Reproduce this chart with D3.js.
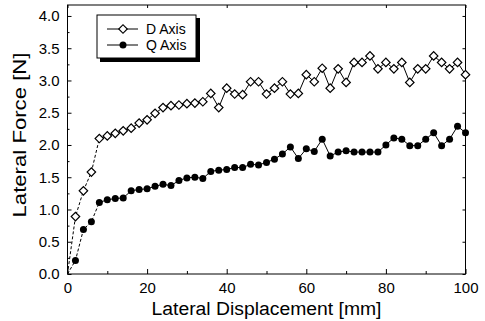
<!DOCTYPE html>
<html><head><meta charset="utf-8">
<script src="https://cdn.jsdelivr.net/npm/d3@7"></script>
<style>body{margin:0;background:#fff}svg{display:block}text{font-family:"Liberation Sans",Arial,sans-serif;fill:#000}</style>
</head><body>
<svg id="c" width="485" height="321"></svg>
<script>
const xValues = [0,2,4,6,8,10,12,14,16,18,20,22,24,26,28,30,32,34,36,38,40,42,44,46,48,50,52,54,56,58,60,62,64,66,68,70,72,74,76,78,80,82,84,86,88,90,92,94,96,98,100];
const dAxis = [0,0.89,1.29,1.58,2.10,2.14,2.18,2.22,2.26,2.34,2.39,2.49,2.58,2.61,2.62,2.64,2.65,2.67,2.80,2.58,2.88,2.79,2.78,2.98,2.98,2.79,2.88,2.98,2.79,2.80,3.09,2.98,3.19,2.88,3.18,2.97,3.28,3.28,3.38,3.18,3.28,3.18,3.28,2.97,3.18,3.18,3.38,3.28,3.18,3.28,3.09];
const qAxis = [0,0.21,0.69,0.81,1.11,1.15,1.17,1.18,1.29,1.31,1.32,1.36,1.39,1.37,1.45,1.49,1.50,1.48,1.59,1.61,1.62,1.65,1.65,1.70,1.69,1.73,1.78,1.86,1.97,1.79,1.94,1.90,2.09,1.83,1.89,1.91,1.89,1.89,1.89,1.89,2.00,2.11,2.09,1.99,1.99,2.09,2.19,1.99,2.09,2.29,2.19];
const seriesNames = ["D Axis","Q Axis"];
const xTicks = [0,20,40,60,80,100];
const xMinor = [10,30,50,70,90];
const yTicks = [0,0.5,1.0,1.5,2.0,2.5,3.0,3.5,4.0];
const yMinor = [0.25,0.75,1.25,1.75,2.25,2.75,3.25,3.75];
const xTitle = "Lateral Displacement [mm]";
const yTitle = "Lateral Force [N]";

const svg = d3.select("#c");
const L = 67.5, R = 465.5, T = 5, B = 274;
const x = d3.scaleLinear().domain([0,100]).range([L,R]);
const y = d3.scaleLinear().domain([0,4.17]).range([B,T]);

// frame
svg.append("rect").attr("x",L).attr("y",T).attr("width",R-L).attr("height",B-T)
  .attr("fill","none").attr("stroke","#000").attr("stroke-width",1);

// axes
const gx = svg.append("g").attr("transform",`translate(0,${B})`)
  .call(d3.axisBottom(x).tickValues(xTicks).tickFormat(d3.format("d")).tickSize(-5).tickPadding(8));
const gy = svg.append("g").attr("transform",`translate(${L},0)`)
  .call(d3.axisLeft(y).tickValues(yTicks).tickFormat(d3.format(".1f")).tickSize(-4).tickPadding(8));
[gx,gy].forEach(g=>{g.select(".domain").remove();g.selectAll("text").style("font-size","15px").style("font-family","Liberation Sans, Arial, sans-serif");g.selectAll("line").attr("stroke","#000");});
svg.append("g").attr("transform",`translate(0,${B})`)
  .call(d3.axisBottom(x).tickValues(xMinor).tickFormat("").tickSize(-3)).select(".domain").remove();
svg.append("g").attr("transform",`translate(${L},0)`)
  .call(d3.axisLeft(y).tickValues(yMinor).tickFormat("").tickSize(-2)).select(".domain").remove();
svg.append("g").attr("transform",`translate(${R},0)`)
  .call(d3.axisRight(y).tickValues(yTicks).tickFormat("").tickSize(-3)).select(".domain").remove();
svg.append("g").attr("transform",`translate(0,${T})`)
  .call(d3.axisTop(x).tickValues(xTicks).tickFormat("").tickSize(-3)).select(".domain").remove();

// titles
svg.append("text").attr("x",(L+R)/2).attr("y",315).attr("text-anchor","middle")
  .style("font-size","18px").attr("textLength",230).attr("lengthAdjust","spacingAndGlyphs").text(xTitle);
svg.append("text").attr("transform","translate(26,135) rotate(-90)").attr("text-anchor","middle")
  .style("font-size","18px").attr("textLength",165).attr("lengthAdjust","spacingAndGlyphs").text(yTitle);

// series
const pts = (vals)=>xValues.map((xv,i)=>[xv,vals[i]]);
const line = d3.line().x(d=>x(d[0])).y(d=>y(d[1]));
const series = [pts(dAxis), pts(qAxis)];
series.forEach(p=>{
  svg.append("path").attr("d",line(p.slice(0,5))).attr("fill","none").attr("stroke","#000").attr("stroke-width",1).attr("stroke-dasharray","3,2");
  svg.append("path").attr("d",line(p.slice(4))).attr("fill","none").attr("stroke","#000").attr("stroke-width",1);
});
function drawD(g,cx,cy){ g.append("rect").attr("x",cx-3).attr("y",cy-3).attr("width",6).attr("height",6)
  .attr("transform",`rotate(45,${cx},${cy})`).attr("fill","#fff").attr("stroke","#000").attr("stroke-width",1.2); }
function drawQ(g,cx,cy){ g.append("circle").attr("cx",cx).attr("cy",cy).attr("r",3.5).attr("fill","#000"); }
series[0].slice(1).forEach(d=>drawD(svg,x(d[0]),y(d[1])));
series[1].slice(1).forEach(d=>drawQ(svg,x(d[0]),y(d[1])));

// legend
const lg = svg.append("g");
lg.append("rect").attr("x",100).attr("y",18).attr("width",100).attr("height",44).attr("fill","#000");
lg.append("rect").attr("x",97).attr("y",15).attr("width",99).attr("height",43).attr("fill","#fff").attr("stroke","#000").attr("stroke-width",1);
[[29,drawD,seriesNames[0]],[45,drawQ,seriesNames[1]]].forEach(([ly,fn,name])=>{
  lg.append("line").attr("x1",107).attr("x2",138).attr("y1",ly).attr("y2",ly).attr("stroke","#000");
  fn(lg,123,ly);
  lg.append("text").attr("x",146).attr("y",ly+5).style("font-size","14px").text(name);
});
</script>
</body></html>
